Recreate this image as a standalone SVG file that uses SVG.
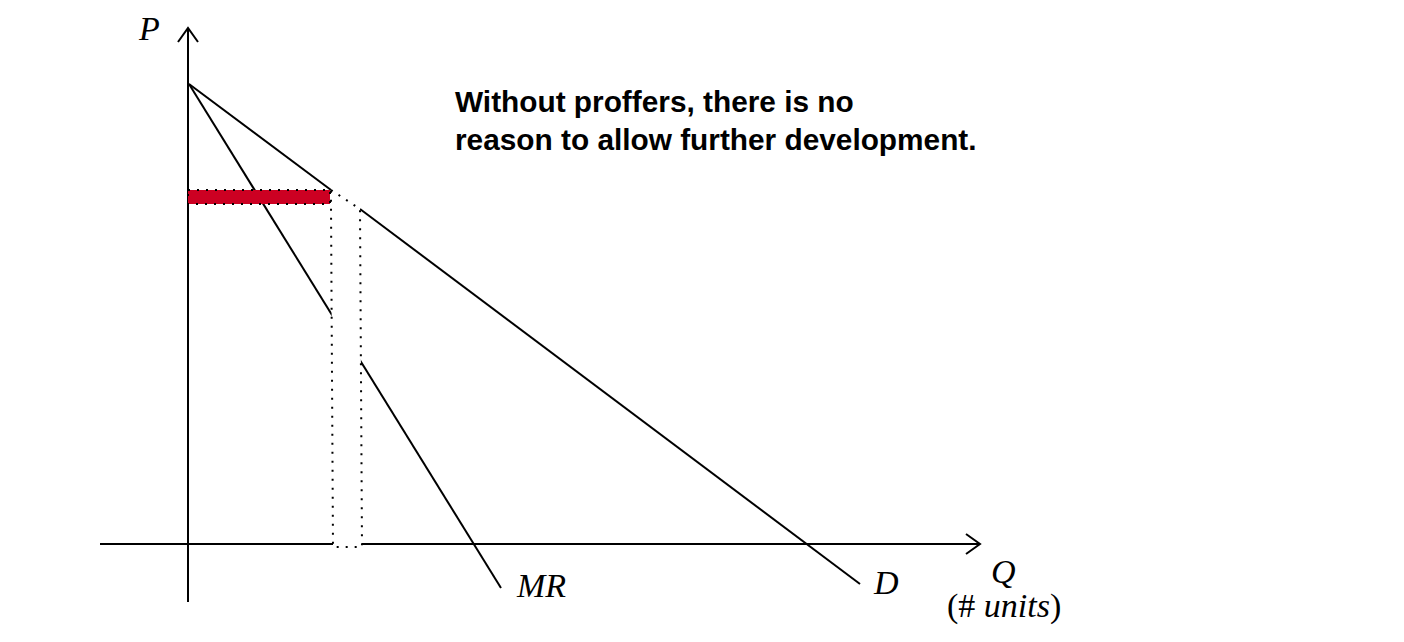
<svg xmlns="http://www.w3.org/2000/svg" width="1404" height="642" viewBox="0 0 1404 642">
<style>
.ln{stroke:#000;stroke-width:2;fill:none}
.dot{stroke:#000;stroke-width:2;stroke-dasharray:2 7;}
.lab{font-family:"Liberation Serif","DejaVu Serif",serif;font-style:italic;font-size:34px;fill:#000}
.up{font-style:normal}
.note{font-family:"Liberation Sans",Arial,sans-serif;font-weight:bold;font-size:29.8px;fill:#000}
</style>
<rect width="1404" height="642" fill="#fff"/>
<g id="axes">
<line class="ln" x1="188" y1="28" x2="188" y2="602"/>
<polyline class="ln" points="178,42 188,28 198,42"/>
<line class="ln" x1="100" y1="544" x2="980" y2="544"/>
<polyline class="ln" points="966,534 980,544 966,554"/>
</g>
<g id="connectors">
<line id="D" class="ln" x1="189" y1="84" x2="331" y2="190"/>
<line class="ln" x1="360" y1="209" x2="860" y2="584"/>
<line id="MR" class="ln" x1="189" y1="84" x2="501" y2="588"/>
</g>
<g id="quantity-gap">
<polygon points="331,190 360,209 362,547 333,547 331,204" fill="#fff" class="dot"/>
</g>
<g id="price-bar">
<rect x="188" y="190" width="142" height="14" fill="#CC0022" class="dot"/>
</g>
<g id="labels">
<text class="lab" x="139" y="40">P</text>
<text class="lab" x="517" y="597">MR</text>
<text class="lab" x="874" y="594">D</text>
<text class="lab" x="991" y="583">Q</text>
<text class="lab" x="947" y="617"><tspan class="up">(#</tspan> units<tspan class="up">)</tspan></text>
</g>
<g id="note">
<text class="note" x="455" y="112">Without proffers, there is no</text>
<text class="note" x="455" y="150">reason to allow further development.</text>
</g>
</svg>
